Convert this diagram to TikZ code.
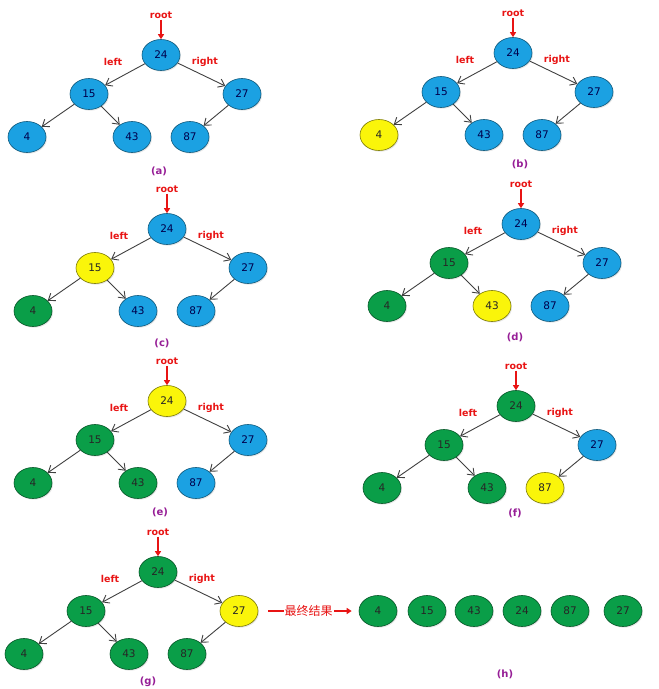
\documentclass[tikz,border=0pt]{standalone}
\usepackage{fontspec}
\setmainfont{DejaVu Sans}
\newfontfamily\cjkfont{Noto Sans CJK SC}
\usepackage{xcolor}
\usepackage{tikz}
\usetikzlibrary{arrows.meta,shapes.geometric,shadows}

\definecolor{nodeblue}{RGB}{27,161,226}
\definecolor{nodegreen}{RGB}{10,158,72}
\definecolor{nodeyellow}{RGB}{250,245,10}
\definecolor{markred}{RGB}{232,20,20}
\definecolor{capviolet}{RGB}{150,30,150}

% one heap tree: name, position of 24, styles of 24,15,27,4,43,87
\newcommand{\heaptree}[8]{%
  \begin{scope}[shift={(#2)}]
    \node[#3] (#1-24) at (0,0) {24};
    \node[#4] (#1-15) at (-72,39) {15};
    \node[#5] (#1-27) at (81,39) {27};
    \node[#6] (#1-4) at (-134,82) {4};
    \node[#7] (#1-43) at (-29,82) {43};
    \node[#8] (#1-87) at (29,82) {87};
    \node[redword] (#1-root) at (0,-40) {root};
    \node[redword] (#1-left) at (-48,7) {left};
    \node[redword] (#1-right) at (44,7) {right};
  \end{scope}
  \draw[rootarrow] (#1-root) -- (#1-24);
  \draw[link] (#1-24) -- (#1-15);
  \draw[link] (#1-24) -- (#1-27);
  \draw[link] (#1-15) -- (#1-4);
  \draw[link] (#1-15) -- (#1-43);
  \draw[link] (#1-27) -- (#1-87);
}

\begin{document}
\begin{tikzpicture}[
    x=1pt, y=-1pt,
    heapnode/.style={ellipse, draw, line width=0.6pt, minimum width=38pt, minimum height=31pt, inner sep=0pt,
      font=\fontsize{10.5}{12}\selectfont, drop shadow={shadow xshift=1pt, shadow yshift=-1.2pt, opacity=0.2}},
    unvisited/.style={heapnode, fill=nodeblue, draw=nodeblue!55!black, text=black!70!blue},
    visited/.style={heapnode, fill=nodegreen, draw=nodegreen!55!black, text=black!85},
    current/.style={heapnode, fill=nodeyellow, draw=nodeyellow!50!black, text=black!85},
    link/.style={-{Straight Barb[length=6pt,width=9pt]}, line width=0.9pt, draw=black!75},
    rootarrow/.style={-{Triangle[length=5pt,width=6pt]}, line width=1.6pt, draw=markred},
    resultarrow/.style={-{Triangle[length=5pt,width=6pt]}, line width=1.4pt, draw=markred},
    redword/.style={text=markred, font=\bfseries\fontsize{9.5}{11}\selectfont, inner sep=1pt},
    sublabel/.style={text=capviolet, font=\bfseries\fontsize{10}{12}\selectfont}
  ]
    \useasboundingbox (0,0) rectangle (659,689);

    \heaptree{a}{161,55}{unvisited}{unvisited}{unvisited}{unvisited}{unvisited}{unvisited}
    \heaptree{b}{513,53}{unvisited}{unvisited}{unvisited}{current}{unvisited}{unvisited}
    \heaptree{c}{167,229}{unvisited}{current}{unvisited}{visited}{unvisited}{unvisited}
    \heaptree{d}{521,224}{unvisited}{visited}{unvisited}{visited}{current}{unvisited}
    \heaptree{e}{167,401}{current}{visited}{unvisited}{visited}{visited}{unvisited}
    \heaptree{f}{516,406}{visited}{visited}{unvisited}{visited}{visited}{current}
    \heaptree{g}{158,572}{visited}{visited}{current}{visited}{visited}{visited}

    \node[sublabel] (cap-a) at (159,171) {(a)};
    \node[sublabel] (cap-b) at (520,164) {(b)};
    \node[sublabel] (cap-c) at (162,343) {(c)};
    \node[sublabel] (cap-d) at (515,337) {(d)};
    \node[sublabel] (cap-e) at (160,512) {(e)};
    \node[sublabel] (cap-f) at (515,513) {(f)};
    \node[sublabel] (cap-g) at (148,682) {(g)};
    \node[sublabel] (cap-h) at (505,674) {(h)};

    % in-order result
    \node[visited] (h-4) at (378,611) {4};
    \node[visited] (h-15) at (427,611) {15};
    \node[visited] (h-43) at (474,611) {43};
    \node[visited] (h-24) at (522,611) {24};
    \node[visited] (h-87) at (570,611) {87};
    \node[visited] (h-27) at (623,611) {27};

    \draw[resultarrow, shorten <=10pt, shorten >=7pt] (g-27) -- node[fill=white, inner sep=1pt, text=markred, font=\cjkfont\fontsize{12}{14}\selectfont] (result) {最终结果} (h-4);
  \end{tikzpicture}
\end{document}
